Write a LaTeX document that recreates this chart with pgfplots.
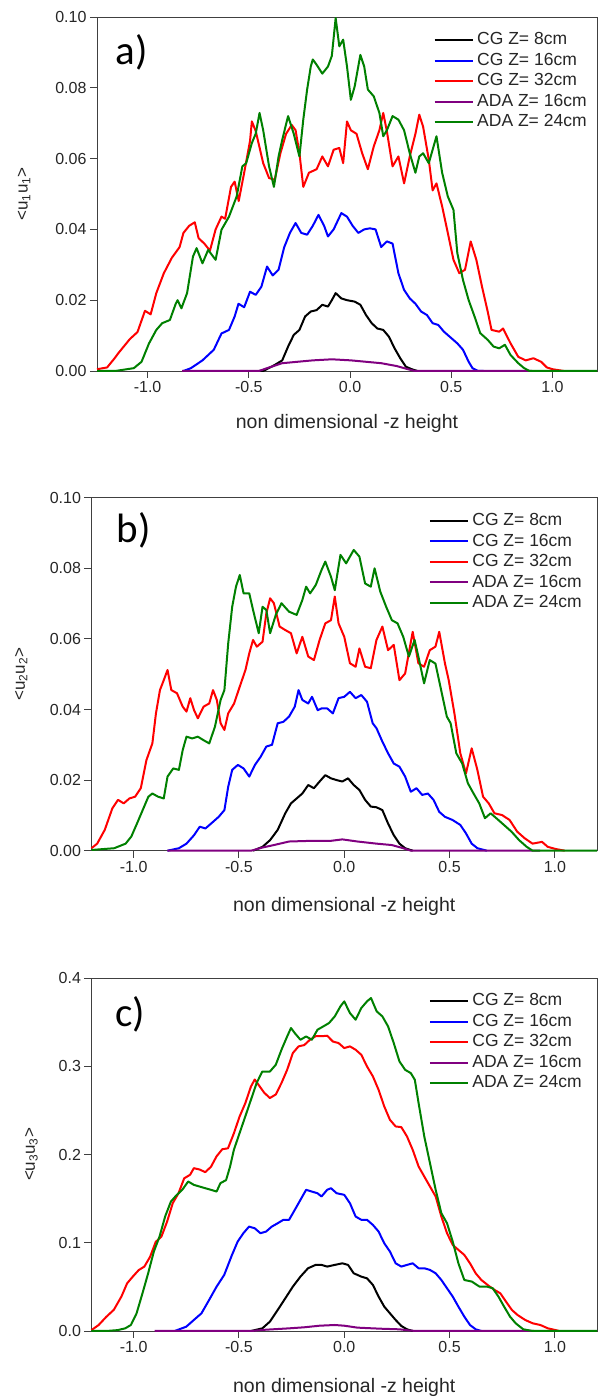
\documentclass[border=0pt]{standalone}
\usepackage{fontspec}
\setmainfont{Liberation Sans}
\newfontfamily\calibri{Carlito}
\usepackage{pgfplots}
\pgfplotsset{compat=1.18}
\definecolor{cgblack}{RGB}{0,0,0}
\definecolor{cgblue}{RGB}{0,0,255}
\definecolor{cgred}{RGB}{255,0,0}
\definecolor{adapurple}{RGB}{128,0,128}
\definecolor{adagreen}{RGB}{0,128,0}
\pgfplotsset{
 myaxis/.style={
  scale only axis, anchor=south west, clip=false,
  axis line style={line width=0.9pt, color=black!75},
  tick align=outside, xtick pos=bottom, ytick pos=left,
  major tick length=7pt, tick style={line width=0.9pt, color=black!75},
  xtick={-1,-0.5,0,0.5,1},
  xticklabel style={/pgf/number format/fixed, /pgf/number format/fixed zerofill, /pgf/number format/precision=1},
  /pgf/number format/assume math mode=true,
  ticklabel style={font=\fontsize{16}{18}\selectfont, text=black!85},
  xlabel={non dimensional -z height},
  every axis x label/.style={anchor=center, font=\fontsize{19.5}{22}\selectfont, text=black!85},
  every axis y label/.style={anchor=center, rotate=90, font=\fontsize{17}{19}\selectfont, text=black!85},
  legend cell align=left,
  legend image code/.code={\draw[#1, line width=2pt] (0pt,0pt) -- (38pt,0pt);},
  legend style={draw=none, fill=none, anchor=north west, font=\fontsize{17.5}{19}\selectfont,
    text=black!85, row sep=5pt, inner sep=0pt,
    nodes={inner ysep=0pt, inner xsep=3.5pt, text height=12.5pt, text depth=3pt}},
  every axis plot/.append style={line width=2pt, line join=round},
 }
}
\begin{document}
\begin{tikzpicture}
\useasboundingbox (0,0) rectangle (598pt,1400pt);
% ---------------- panel a ----------------
\begin{axis}[myaxis, at={(97pt,1029pt)}, width=500pt, height=354pt,
  xmin=-1.25, xmax=1.22, ymin=0, ymax=0.1,
  ytick={0,0.02,0.04,0.06,0.08,0.1},
  yticklabel style={/pgf/number format/fixed, /pgf/number format/fixed zerofill, /pgf/number format/precision=2},
  ylabel={<u\textsubscript{1}u\textsubscript{1}>},
  x label style={at={(axis description cs:0.5,-0.147)}},
  y label style={at={(axis description cs:-0.146,0.5)}},
  legend style={at={(axis description cs:0.673,0.957)}}]
\addplot[cgblack] coordinates {(-0.45,0) (-0.429,0) (-0.372,0.0017) (-0.335,0.003) (-0.306,0.0069) (-0.278,0.0102) (-0.25,0.0116) (-0.222,0.0154) (-0.194,0.0168) (-0.165,0.0172) (-0.137,0.0187) (-0.109,0.0182) (-0.09,0.020) (-0.071,0.022) (-0.043,0.0205) (-0.015,0.020) (0.023,0.0196) (0.051,0.0187) (0.079,0.0158) (0.107,0.0135) (0.135,0.012) (0.164,0.0116) (0.192,0.0097) (0.22,0.0064) (0.248,0.0036) (0.276,0.0012) (0.305,0.0005) (0.333,0)};
\addlegendentry{CG Z= 8cm}
\addplot[cgblue] coordinates {(-0.823,0) (-0.786,0.0008) (-0.729,0.003) (-0.673,0.006) (-0.635,0.0106) (-0.598,0.0116) (-0.57,0.0154) (-0.551,0.019) (-0.523,0.018) (-0.494,0.0224) (-0.466,0.0215) (-0.438,0.0238) (-0.41,0.0295) (-0.382,0.027) (-0.353,0.0286) (-0.325,0.035) (-0.297,0.039) (-0.269,0.0418) (-0.241,0.039) (-0.212,0.0385) (-0.184,0.041) (-0.156,0.0441) (-0.128,0.041) (-0.109,0.038) (-0.081,0.040) (-0.043,0.0446) (-0.015,0.0436) (0.013,0.041) (0.041,0.039) (0.07,0.040) (0.098,0.0403) (0.126,0.040) (0.154,0.035) (0.182,0.0366) (0.21,0.036) (0.239,0.0276) (0.267,0.0229) (0.295,0.0205) (0.323,0.019) (0.351,0.0168) (0.38,0.0158) (0.408,0.0135) (0.436,0.013) (0.464,0.0111) (0.492,0.0097) (0.53,0.0078) (0.558,0.006) (0.586,0.0026) (0.605,0.0008) (0.633,0) (0.66,0)};
\addlegendentry{CG Z= 16cm}
\addplot[cgred] coordinates {(-1.25,0.0005) (-1.2,0.001) (-1.163,0.0036) (-1.145,0.005) (-1.088,0.009) (-1.05,0.011) (-1.013,0.017) (-0.985,0.016) (-0.957,0.022) (-0.92,0.0276) (-0.88,0.032) (-0.842,0.035) (-0.823,0.039) (-0.795,0.041) (-0.767,0.042) (-0.748,0.0375) (-0.72,0.036) (-0.692,0.034) (-0.664,0.040) (-0.635,0.0436) (-0.617,0.043) (-0.588,0.052) (-0.57,0.0535) (-0.55,0.048) (-0.523,0.056) (-0.494,0.065) (-0.485,0.0705) (-0.466,0.0678) (-0.429,0.0587) (-0.4,0.0545) (-0.372,0.054) (-0.344,0.0615) (-0.316,0.067) (-0.288,0.0695) (-0.269,0.068) (-0.25,0.0615) (-0.231,0.052) (-0.203,0.056) (-0.165,0.057) (-0.137,0.0606) (-0.109,0.0578) (-0.081,0.0625) (-0.053,0.063) (-0.034,0.0587) (-0.015,0.0705) (0.004,0.068) (0.032,0.067) (0.06,0.0615) (0.088,0.057) (0.117,0.0634) (0.145,0.068) (0.164,0.0729) (0.182,0.0677) (0.21,0.0578) (0.239,0.0606) (0.267,0.053) (0.295,0.0606) (0.323,0.067) (0.342,0.0724) (0.361,0.069) (0.389,0.0597) (0.408,0.051) (0.427,0.053) (0.455,0.0465) (0.483,0.039) (0.511,0.0314) (0.54,0.0276) (0.568,0.0286) (0.596,0.0366) (0.624,0.0314) (0.652,0.0238) (0.68,0.0168) (0.699,0.0116) (0.737,0.0111) (0.756,0.012) (0.793,0.0078) (0.831,0.004) (0.868,0.003) (0.906,0.0036) (0.944,0.0026) (0.972,0.001) (1.0,0.0005) (1.056,0)};
\addlegendentry{CG Z= 32cm}
\addplot[adapurple] coordinates {(-0.83,0) (-0.45,0) (-0.41,0.0008) (-0.335,0.0022) (-0.26,0.0026) (-0.184,0.003) (-0.09,0.0033) (0.004,0.003) (0.079,0.0026) (0.154,0.0022) (0.23,0.0014) (0.286,0.0005) (0.32,0) (0.9,0)};
\addlegendentry{ADA Z= 16cm}
\addplot[adagreen] coordinates {(-1.25,0) (-1.16,0) (-1.068,0.0008) (-1.03,0.0026) (-0.993,0.0078) (-0.957,0.0116) (-0.928,0.0135) (-0.89,0.0144) (-0.861,0.019) (-0.852,0.020) (-0.833,0.0177) (-0.805,0.022) (-0.776,0.0323) (-0.758,0.0347) (-0.729,0.0304) (-0.701,0.0342) (-0.664,0.0314) (-0.635,0.0399) (-0.598,0.0436) (-0.56,0.0493) (-0.532,0.0578) (-0.513,0.0587) (-0.485,0.0644) (-0.466,0.067) (-0.447,0.0729) (-0.429,0.068) (-0.4,0.0578) (-0.376,0.052) (-0.353,0.0606) (-0.335,0.0653) (-0.306,0.072) (-0.278,0.067) (-0.25,0.0606) (-0.231,0.071) (-0.212,0.0795) (-0.194,0.086) (-0.184,0.088) (-0.165,0.0865) (-0.137,0.084) (-0.109,0.086) (-0.09,0.089) (-0.071,0.0997) (-0.053,0.0917) (-0.034,0.0936) (-0.015,0.086) (0.004,0.0766) (0.023,0.0804) (0.051,0.0893) (0.07,0.086) (0.088,0.0795) (0.117,0.0776) (0.145,0.0729) (0.164,0.0663) (0.182,0.068) (0.21,0.072) (0.239,0.071) (0.267,0.068) (0.295,0.0615) (0.323,0.056) (0.342,0.0606) (0.361,0.0615) (0.389,0.0587) (0.427,0.0663) (0.455,0.056) (0.483,0.0493) (0.511,0.0455) (0.53,0.0333) (0.558,0.0257) (0.586,0.020) (0.615,0.0154) (0.643,0.0107) (0.68,0.0088) (0.709,0.0069) (0.737,0.0064) (0.765,0.0074) (0.793,0.0045) (0.831,0.0022) (0.86,0.0008) (0.887,0) (1.22,0)};
\addlegendentry{ADA Z= 24cm}
\node[font=\calibri\fontsize{41}{41}\selectfont] at (axis description cs:0.07,0.90) {a)};
\end{axis}
% ---------------- panel b ----------------
\begin{axis}[myaxis, at={(91.5pt,549.3pt)}, width=505.5pt, height=353pt,
  xmin=-1.2, xmax=1.2, ymin=0, ymax=0.1,
  ytick={0,0.02,0.04,0.06,0.08,0.1},
  yticklabel style={/pgf/number format/fixed, /pgf/number format/fixed zerofill, /pgf/number format/precision=2},
  ylabel={<u\textsubscript{2}u\textsubscript{2}>},
  x label style={at={(axis description cs:0.5,-0.159)}},
  y label style={at={(axis description cs:-0.139,0.5)}},
  legend style={at={(axis description cs:0.667,0.957)}}]
\addplot[cgblack] coordinates {(-0.433,0) (-0.388,0.0011) (-0.352,0.003) (-0.316,0.0059) (-0.28,0.0106) (-0.253,0.0134) (-0.226,0.0148) (-0.199,0.0162) (-0.171,0.0186) (-0.144,0.0177) (-0.117,0.0196) (-0.09,0.0214) (-0.063,0.0205) (-0.036,0.020) (-0.009,0.0196) (0.018,0.0205) (0.045,0.0186) (0.072,0.0172) (0.099,0.0144) (0.126,0.0125) (0.153,0.0123) (0.181,0.0115) (0.208,0.0077) (0.235,0.0044) (0.262,0.002) (0.289,0.0007) (0.325,0)};
\addlegendentry{CG Z= 8cm}
\addplot[cgblue] coordinates {(-0.839,0) (-0.785,0.0007) (-0.749,0.002) (-0.713,0.0044) (-0.686,0.0068) (-0.659,0.0063) (-0.632,0.0077) (-0.596,0.0096) (-0.569,0.0115) (-0.551,0.0181) (-0.532,0.0229) (-0.505,0.0243) (-0.478,0.0233) (-0.451,0.021) (-0.424,0.0243) (-0.397,0.0266) (-0.37,0.0295) (-0.343,0.030) (-0.316,0.0361) (-0.289,0.0365) (-0.262,0.038) (-0.235,0.0408) (-0.217,0.0455) (-0.199,0.0427) (-0.171,0.0417) (-0.153,0.0436) (-0.126,0.0398) (-0.108,0.0403) (-0.081,0.0403) (-0.054,0.0389) (-0.027,0.0432) (0,0.0436) (0.027,0.045) (0.054,0.0432) (0.081,0.0441) (0.108,0.0422) (0.135,0.0361) (0.153,0.0347) (0.181,0.0309) (0.208,0.0276) (0.235,0.0247) (0.262,0.0238) (0.289,0.021) (0.316,0.0167) (0.343,0.0177) (0.37,0.0158) (0.397,0.0162) (0.424,0.0144) (0.451,0.011) (0.478,0.0096) (0.514,0.0087) (0.551,0.0073) (0.578,0.0049) (0.605,0.002) (0.632,0.0007) (0.677,0)};
\addlegendentry{CG Z= 16cm}
\addplot[cgred] coordinates {(-1.2,0.0007) (-1.173,0.002) (-1.137,0.0059) (-1.101,0.012) (-1.074,0.0144) (-1.047,0.0134) (-1.02,0.0148) (-0.993,0.0153) (-0.966,0.0177) (-0.939,0.0257) (-0.911,0.0304) (-0.894,0.0389) (-0.875,0.0455) (-0.857,0.0483) (-0.839,0.0512) (-0.821,0.0455) (-0.794,0.0446) (-0.767,0.0408) (-0.749,0.0394) (-0.731,0.0432) (-0.713,0.0398) (-0.695,0.0375) (-0.668,0.0408) (-0.641,0.0417) (-0.623,0.0455) (-0.605,0.0427) (-0.587,0.0361) (-0.569,0.0342) (-0.551,0.0389) (-0.523,0.0417) (-0.496,0.0465) (-0.469,0.0512) (-0.451,0.0559) (-0.433,0.0597) (-0.415,0.0578) (-0.388,0.0592) (-0.37,0.0672) (-0.352,0.0715) (-0.334,0.0701) (-0.307,0.0635) (-0.28,0.0625) (-0.253,0.0616) (-0.226,0.0559) (-0.199,0.0606) (-0.171,0.055) (-0.144,0.054) (-0.117,0.0597) (-0.09,0.0644) (-0.063,0.0653) (-0.045,0.072) (-0.027,0.0644) (0,0.0606) (0.027,0.0531) (0.054,0.0521) (0.072,0.0573) (0.099,0.0521) (0.126,0.0517) (0.153,0.0597) (0.181,0.0635) (0.208,0.0568) (0.235,0.0583) (0.262,0.0483) (0.289,0.0502) (0.325,0.062) (0.352,0.0531) (0.379,0.0521) (0.406,0.0568) (0.433,0.0578) (0.451,0.062) (0.478,0.0531) (0.496,0.0483) (0.523,0.0389) (0.551,0.0276) (0.578,0.0219) (0.605,0.029) (0.632,0.0229) (0.659,0.0153) (0.686,0.0134) (0.713,0.0106) (0.749,0.0101) (0.785,0.0087) (0.821,0.0054) (0.857,0.0035) (0.894,0.002) (0.939,0.0025) (0.966,0.0011) (1.002,0.0005) (1.047,0)};
\addlegendentry{CG Z= 32cm}
\addplot[adapurple] coordinates {(-0.84,0) (-0.442,0) (-0.388,0.0009) (-0.334,0.0016) (-0.262,0.0026) (-0.153,0.0028) (-0.063,0.0028) (-0.009,0.0032) (0.063,0.0026) (0.153,0.002) (0.226,0.0016) (0.28,0.0007) (0.316,0) (0.93,0)};
\addlegendentry{ADA Z= 16cm}
\addplot[adagreen] coordinates {(-1.2,0.0002) (-1.092,0.0007) (-1.038,0.002) (-1.011,0.004) (-0.984,0.0077) (-0.957,0.0115) (-0.93,0.0153) (-0.911,0.0162) (-0.884,0.0153) (-0.857,0.0148) (-0.839,0.021) (-0.812,0.0233) (-0.785,0.0229) (-0.767,0.0285) (-0.749,0.0323) (-0.722,0.0318) (-0.695,0.0323) (-0.668,0.0313) (-0.641,0.0304) (-0.614,0.0351) (-0.587,0.0427) (-0.569,0.0455) (-0.551,0.0587) (-0.532,0.0691) (-0.514,0.0748) (-0.496,0.0781) (-0.478,0.0729) (-0.451,0.0729) (-0.433,0.0682) (-0.406,0.0616) (-0.388,0.0691) (-0.37,0.0682) (-0.352,0.0616) (-0.325,0.0668) (-0.298,0.0701) (-0.262,0.0677) (-0.226,0.0668) (-0.199,0.071) (-0.181,0.0748) (-0.162,0.0729) (-0.135,0.0753) (-0.108,0.0795) (-0.09,0.0819) (-0.063,0.0776) (-0.045,0.0738) (-0.018,0.0838) (0.009,0.0814) (0.027,0.0833) (0.045,0.0852) (0.072,0.0833) (0.099,0.0757) (0.126,0.0748) (0.144,0.080) (0.171,0.0734) (0.199,0.0691) (0.226,0.0653) (0.253,0.0644) (0.28,0.0606) (0.307,0.055) (0.334,0.0597) (0.352,0.055) (0.379,0.0474) (0.406,0.054) (0.433,0.053) (0.46,0.0455) (0.487,0.038) (0.505,0.0361) (0.532,0.0276) (0.56,0.0247) (0.587,0.0191) (0.614,0.0162) (0.641,0.0134) (0.668,0.0092) (0.695,0.0106) (0.722,0.0092) (0.758,0.0073) (0.794,0.0054) (0.83,0.003) (0.866,0.0011) (0.894,0) (1.2,0)};
\addlegendentry{ADA Z= 24cm}
\node[font=\calibri\fontsize{41}{41}\selectfont] at (axis description cs:0.084,0.908) {b)};
\end{axis}
% ---------------- panel c ----------------
\begin{axis}[myaxis, at={(91.5pt,69pt)}, width=505.5pt, height=353pt,
  xmin=-1.2, xmax=1.2, ymin=0, ymax=0.4,
  ytick={0,0.1,0.2,0.3,0.4},
  yticklabel style={/pgf/number format/fixed, /pgf/number format/fixed zerofill, /pgf/number format/precision=1},
  ylabel={<u\textsubscript{3}u\textsubscript{3}>},
  x label style={at={(axis description cs:0.5,-0.159)}},
  y label style={at={(axis description cs:-0.119,0.5)}},
  legend style={at={(axis description cs:0.667,0.957)}}]
\addplot[cgblack] coordinates {(-0.443,0) (-0.389,0.003) (-0.353,0.0106) (-0.316,0.0238) (-0.28,0.037) (-0.244,0.0503) (-0.208,0.0616) (-0.172,0.0711) (-0.136,0.0749) (-0.108,0.0749) (-0.081,0.073) (-0.045,0.0749) (-0.009,0.0767) (0.018,0.0749) (0.045,0.0654) (0.081,0.0616) (0.108,0.0597) (0.136,0.0522) (0.163,0.039) (0.19,0.0276) (0.217,0.020) (0.244,0.0125) (0.271,0.0057) (0.298,0.0019) (0.325,0)};
\addlegendentry{CG Z= 8cm}
\addplot[cgblue] coordinates {(-0.805,0) (-0.75,0.0049) (-0.714,0.0125) (-0.678,0.020) (-0.642,0.035) (-0.606,0.0503) (-0.57,0.0635) (-0.533,0.0862) (-0.506,0.1013) (-0.479,0.1108) (-0.452,0.1183) (-0.425,0.1164) (-0.398,0.1108) (-0.371,0.1127) (-0.344,0.1183) (-0.316,0.1221) (-0.289,0.126) (-0.262,0.126) (-0.235,0.1372) (-0.208,0.1486) (-0.181,0.160) (-0.154,0.158) (-0.127,0.1561) (-0.108,0.1524) (-0.081,0.160) (-0.063,0.1618) (-0.036,0.1561) (0,0.1543) (0.027,0.1448) (0.054,0.1297) (0.081,0.126) (0.108,0.126) (0.136,0.1202) (0.163,0.1127) (0.19,0.0994) (0.217,0.090) (0.244,0.0767) (0.271,0.073) (0.298,0.0749) (0.325,0.0767) (0.353,0.0711) (0.38,0.0711) (0.407,0.0692) (0.434,0.0654) (0.461,0.0578) (0.488,0.0484) (0.515,0.039) (0.542,0.0276) (0.57,0.0163) (0.597,0.0068) (0.624,0.0019) (0.651,0)};
\addlegendentry{CG Z= 16cm}
\addplot[cgred] coordinates {(-1.2,0.001) (-1.166,0.0068) (-1.13,0.016) (-1.094,0.024) (-1.058,0.039) (-1.031,0.054) (-1.004,0.0616) (-0.976,0.069) (-0.949,0.073) (-0.922,0.084) (-0.895,0.101) (-0.868,0.107) (-0.841,0.124) (-0.814,0.145) (-0.787,0.156) (-0.76,0.173) (-0.732,0.177) (-0.714,0.1845) (-0.687,0.183) (-0.66,0.180) (-0.633,0.186) (-0.606,0.198) (-0.579,0.206) (-0.552,0.207) (-0.524,0.224) (-0.497,0.243) (-0.47,0.258) (-0.443,0.277) (-0.425,0.285) (-0.407,0.279) (-0.38,0.270) (-0.353,0.264) (-0.325,0.268) (-0.298,0.281) (-0.271,0.296) (-0.244,0.315) (-0.217,0.3225) (-0.19,0.324) (-0.163,0.330) (-0.136,0.334) (-0.108,0.334) (-0.081,0.3346) (-0.054,0.328) (-0.027,0.3263) (0,0.3206) (0.027,0.3225) (0.054,0.3187) (0.081,0.313) (0.108,0.2998) (0.136,0.2885) (0.163,0.2733) (0.19,0.2544) (0.217,0.2393) (0.244,0.2318) (0.271,0.231) (0.298,0.2204) (0.325,0.2053) (0.353,0.1864) (0.38,0.175) (0.407,0.1637) (0.434,0.1524) (0.461,0.1297) (0.488,0.1108) (0.515,0.0975) (0.542,0.0919) (0.57,0.0862) (0.597,0.0767) (0.624,0.0654) (0.651,0.0578) (0.687,0.051) (0.714,0.0465) (0.741,0.0427) (0.768,0.0333) (0.796,0.0238) (0.823,0.0181) (0.859,0.0125) (0.895,0.0087) (0.931,0.0068) (0.967,0.003) (1.004,0.001) (1.02,0)};
\addlegendentry{CG Z= 32cm}
\addplot[adapurple] coordinates {(-0.9,0) (-0.443,0) (-0.37,0.0015) (-0.262,0.003) (-0.19,0.0042) (-0.117,0.006) (-0.045,0.0068) (0,0.006) (0.063,0.0038) (0.172,0.0026) (0.262,0.0019) (0.316,0.0004) (0.353,0) (0.9,0)};
\addlegendentry{ADA Z= 16cm}
\addplot[adagreen] coordinates {(-1.2,0) (-1.13,0) (-1.076,0.001) (-1.04,0.003) (-1.013,0.0068) (-0.986,0.020) (-0.958,0.0427) (-0.931,0.0654) (-0.904,0.090) (-0.877,0.107) (-0.85,0.130) (-0.823,0.1467) (-0.796,0.154) (-0.769,0.160) (-0.741,0.1694) (-0.714,0.1656) (-0.687,0.1637) (-0.66,0.1618) (-0.633,0.160) (-0.606,0.158) (-0.588,0.1675) (-0.561,0.171) (-0.542,0.1864) (-0.524,0.2053) (-0.497,0.2242) (-0.47,0.243) (-0.443,0.262) (-0.416,0.281) (-0.389,0.294) (-0.353,0.294) (-0.325,0.3017) (-0.298,0.3187) (-0.271,0.3338) (-0.253,0.3433) (-0.235,0.3376) (-0.208,0.330) (-0.181,0.3338) (-0.154,0.330) (-0.127,0.3414) (-0.099,0.3452) (-0.072,0.349) (-0.045,0.3565) (-0.018,0.3679) (0,0.3735) (0.027,0.3603) (0.054,0.3527) (0.081,0.366) (0.108,0.3735) (0.127,0.3773) (0.154,0.3622) (0.181,0.3565) (0.208,0.3452) (0.235,0.3263) (0.262,0.3055) (0.289,0.296) (0.316,0.2922) (0.335,0.2847) (0.353,0.2582) (0.38,0.2204) (0.407,0.1902) (0.434,0.160) (0.461,0.1335) (0.488,0.1221) (0.515,0.1013) (0.542,0.0767) (0.57,0.0578) (0.606,0.056) (0.642,0.0503) (0.678,0.0503) (0.705,0.0484) (0.732,0.039) (0.759,0.0276) (0.787,0.0163) (0.814,0.0087) (0.85,0.0019) (0.895,0) (1.2,0)};
\addlegendentry{ADA Z= 24cm}
\node[font=\calibri\fontsize{41}{41}\selectfont] at (axis description cs:0.076,0.898) {c)};
\end{axis}
\end{tikzpicture}
\end{document}
